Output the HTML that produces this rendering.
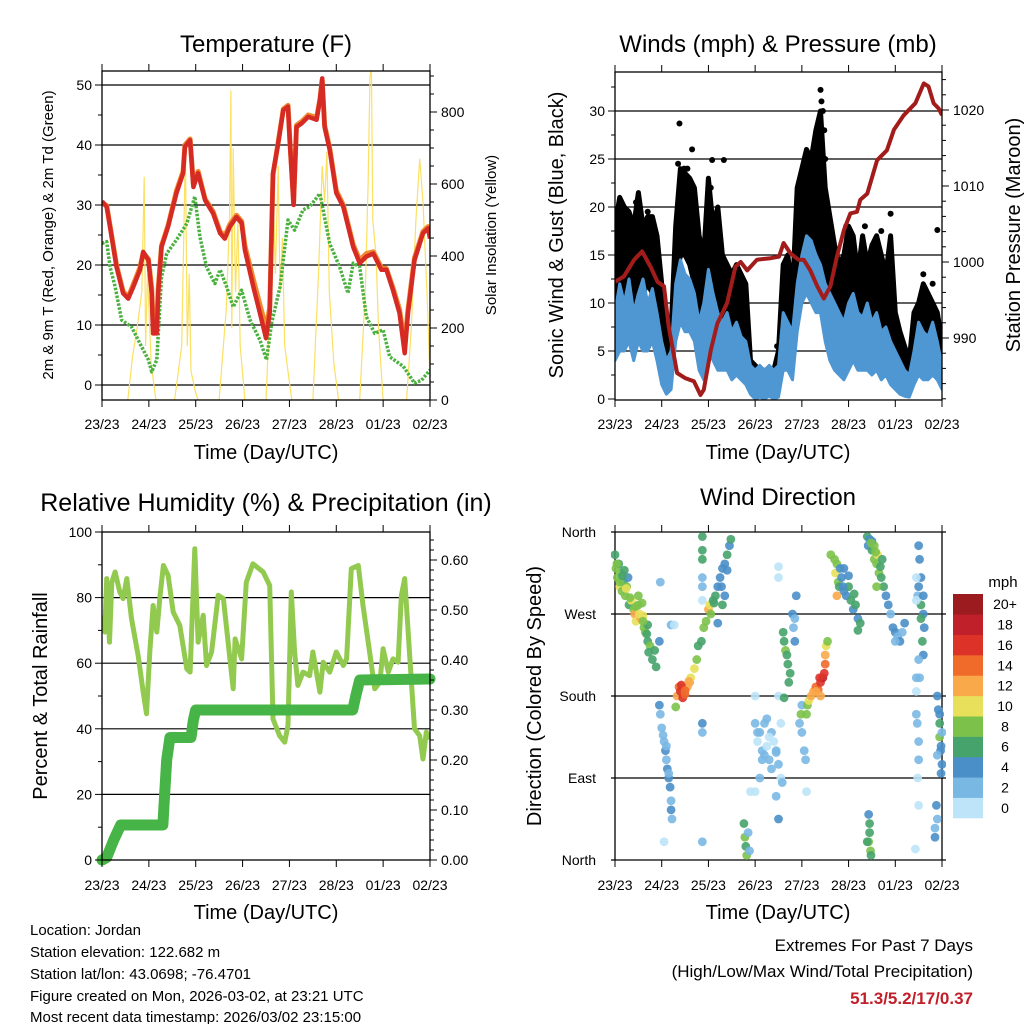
<!DOCTYPE html>
<html><head><meta charset="utf-8"><title>Weather station charts</title>
<style>
html,body{margin:0;padding:0;background:#fff;}
svg{display:block;font-family:"Liberation Sans",sans-serif;}
text{fill:#000;}
</style></head>
<body>
<svg id="fig" width="1024" height="1024" viewBox="0 0 1024 1024" xmlns="http://www.w3.org/2000/svg">
<defs>
<clipPath id="cT"><rect x="102" y="71" width="328" height="329"/></clipPath>
<clipPath id="cW"><rect x="615" y="72" width="327" height="328"/></clipPath>
<clipPath id="cR"><rect x="102" y="532" width="328" height="328"/></clipPath>
<clipPath id="cD"><rect x="611" y="528" width="335" height="336"/></clipPath>
</defs>
<text x="266" y="52" font-size="24" text-anchor="middle">Temperature (F)</text>
<text x="778" y="52" font-size="24" text-anchor="middle">Winds (mph) &amp; Pressure (mb)</text>
<text x="266" y="511" font-size="25" text-anchor="middle">Relative Humidity (%) &amp; Precipitation (in)</text>
<text x="778" y="505" font-size="24" text-anchor="middle">Wind Direction</text>
<text x="266" y="459" font-size="20" text-anchor="middle">Time (Day/UTC)</text>
<text x="778" y="459" font-size="20" text-anchor="middle">Time (Day/UTC)</text>
<text x="266" y="919" font-size="20" text-anchor="middle">Time (Day/UTC)</text>
<text x="778" y="919" font-size="20" text-anchor="middle">Time (Day/UTC)</text>
<text transform="translate(53,235) rotate(-90)" font-size="15" text-anchor="middle">2m &amp; 9m T (Red, Orange) &amp; 2m Td (Green)</text>
<text transform="translate(496,235) rotate(-90)" font-size="15" text-anchor="middle">Solar Insolation (Yellow)</text>
<text transform="translate(563,235) rotate(-90)" font-size="20" text-anchor="middle">Sonic Wind &amp; Gust (Blue, Black)</text>
<text transform="translate(1020,235) rotate(-90)" font-size="20" text-anchor="middle">Station Pressure (Maroon)</text>
<text transform="translate(47,696) rotate(-90)" font-size="20" text-anchor="middle">Percent &amp; Total Rainfall</text>
<text transform="translate(541,696) rotate(-90)" font-size="20" text-anchor="middle">Direction (Colored By Speed)</text>
<g font-size="15">
<text x="30" y="935">Location: Jordan</text>
<text x="30" y="957">Station elevation: 122.682 m</text>
<text x="30" y="979">Station lat/lon: 43.0698; -76.4701</text>
<text x="30" y="1001">Figure created on Mon, 2026-03-02, at 23:21 UTC</text>
<text x="30" y="1022">Most recent data timestamp: 2026/03/02 23:15:00</text>
</g>
<text x="973" y="951" font-size="17" text-anchor="end">Extremes For Past 7 Days</text>
<text x="973" y="977" font-size="17" text-anchor="end">(High/Low/Max Wind/Total Precipitation)</text>
<text x="973" y="1004" font-size="17" font-weight="bold" text-anchor="end" style="fill:#c0202a">51.3/5.2/17/0.37</text>
<text x="1003" y="587" font-size="15" text-anchor="middle">mph</text>
</svg>
<script>
// ---------- data ----------
const dayLabels = ["23/23","24/23","25/23","26/23","27/23","28/23","01/23","02/23"];
const tempT = [0,0.1,0.17,0.31,0.45,0.56,0.67,0.81,0.88,0.99,1.06,1.09,1.17,1.2,1.27,1.41,1.59,1.73,1.77,1.88,1.95,2.05,2.2,2.37,2.52,2.62,2.73,2.87,2.98,3.05,3.23,3.37,3.5,3.58,3.65,3.76,3.87,3.97,4.01,4.09,4.15,4.26,4.4,4.58,4.65,4.7,4.75,4.86,5.0,5.15,5.36,5.5,5.64,5.79,5.96,6.07,6.21,6.35,6.46,6.53,6.67,6.85,6.96,7.0];
const temp2m = [30.6,29.7,26.4,19.7,15.3,14.4,16.4,19.2,22.2,20.8,15.3,8.6,8.6,15.3,23,26.4,32,35.3,39.7,40.8,33,35.3,30.8,28.6,25.3,24.4,26.4,28,27,22.5,16.4,12,7.8,12,35.3,40.3,45.8,46.4,40.3,30,43,43.6,44.7,44.2,47.5,51.1,43,39.2,32,29.7,23,20.3,21.4,21.9,19.2,19.2,15.8,12,5.3,12,20.8,25.3,26.1,24.4];
const temp9m = [30.4,29.9,26.6,20.0,15.6,14.6,16.8,19.6,22.0,21.0,16.2,10.2,10.0,16.0,23.2,26.6,32.4,35.6,40.0,41.0,33.4,35.6,31.0,28.9,25.6,24.8,26.8,28.3,27.3,23.2,17.6,13.4,9.6,12.8,35.0,40.5,46.0,46.6,40.6,30.4,43.3,43.9,45.0,44.6,47.6,50.8,43.3,39.5,32.4,30.0,23.4,20.8,21.9,22.2,19.6,19.4,16.2,12.6,6.8,12.6,21.2,25.6,26.4,24.8];
const dewT = [0,0.1,0.17,0.28,0.42,0.63,0.81,0.99,1.06,1.17,1.27,1.38,1.59,1.81,1.98,2.09,2.23,2.41,2.52,2.66,2.8,2.98,3.16,3.37,3.51,3.62,3.8,3.97,4.11,4.29,4.43,4.65,4.86,5.07,5.25,5.36,5.5,5.64,5.82,6.0,6.14,6.43,6.67,6.82,7.0];
const dewPt = [23.6,23.9,19.7,16.4,10.8,9.7,6.9,4.2,2.2,4.2,18,21.9,24.2,26.9,31.4,24.7,19.7,16.9,19.2,16.4,13,15.8,10.8,7.5,4.2,10.3,16.4,27.5,25.8,29.2,29.7,31.9,23.6,19.7,15.3,20.3,19.7,11.4,8.6,9.2,4.7,3.1,0.3,0.8,2.5];
const solarT = [0.55,0.65,0.75,0.85,0.9,0.93,0.97,1.05,1.15,1.55,1.7,1.78,1.82,1.86,1.9,2.0,2.05,2.5,2.65,2.72,2.75,2.77,2.8,2.85,2.9,2.95,3.05,3.5,3.6,3.65,3.7,3.76,3.8,3.85,3.9,4.0,4.05,4.5,4.62,4.7,4.75,4.8,4.85,4.95,5.05,5.5,5.62,5.68,5.72,5.75,5.78,5.85,5.9,6.0,6.5,6.6,6.7,6.78,6.85,6.95,7.0];
const solarV = [0,120,200,300,620,150,350,100,0,0,150,700,150,350,80,20,0,0,250,500,860,200,700,300,500,150,0,0,300,600,350,650,300,450,150,50,0,0,350,650,550,690,300,100,0,0,300,600,900,920,500,400,200,0,0,200,500,670,550,250,50];
const windT = [0,0.1,0.2,0.3,0.4,0.5,0.6,0.7,0.8,0.9,1.0,1.1,1.2,1.3,1.4,1.5,1.6,1.7,1.8,1.9,2.0,2.1,2.2,2.3,2.4,2.5,2.6,2.7,2.8,2.9,3.0,3.1,3.2,3.3,3.4,3.5,3.6,3.7,3.8,3.9,4.0,4.1,4.2,4.3,4.4,4.5,4.6,4.7,4.8,4.9,5.0,5.1,5.2,5.3,5.4,5.5,5.6,5.7,5.8,5.9,6.0,6.1,6.2,6.3,6.4,6.5,6.6,6.7,6.8,6.9,7.0];
const sonicHi = [9,12,10,12.5,9,11,12.5,10,11.5,9,6,4,5,12,14.5,13,12.5,11,8,10,13.5,11,9,8,9,7,8,6.5,6,3.5,3,3.5,3,3.5,3,3.5,9,8,7,12,15,17,16.5,15,14,12,11,10,9,8,10,11,9,8.5,10,8,9,7,7.5,6,5,4,3,2.5,5,8,7,6.5,8,6,3.5];
const sonicLo = [4,5,5,6,4,6,5,5,6,4,1.5,0.5,1,6,8,7,7,6,3,2,5,4,3,3,3,2,2.5,2,1.5,0.5,0,0.2,0,0.3,0,0.2,3,3,2,7,10,11,10,9,9,6,4,3,2.5,2,3,4,3,3,3,2.5,3,2,2.5,1.5,1,0.5,0.3,0.2,1.5,2.5,2,2,2.5,2,1];
const gustHi = [18,21,20,19.5,18,21.5,18,19,19,17,12,8,7,18,24,23.5,23,22,17,15,23,18,20,15,14,13,14,13,12,4,3.5,3,3,2.5,3,5,14,15,11,22,24,26,25,28,30,22,19,16,14,15,18,17,13,17,14,16,17,15,13,17,9,7,5.5,4,9,10,12,11,10,9,6];
const gustLo = [10,12,11,12,10,12,11,12,11,9,4,2.5,3,12,15,15,14,12,8,7,10,9,7,6,6,5,5,5,4,1,0.8,1,0.8,1,0.8,1.5,6,6,4,14,16,17,16,16,15,12,8,6,5,4,6,7,5,5,6,5,5,4,4,3,2,1.5,1,0.8,3,4,4,4,4,3,2];
const gustOutT = [1.38,1.65,2.08,2.33,3.47,4.4,4.42,4.45,4.48,5.9,6.9,0.45,0.5,1.35,1.48,4.35,4.3,0.12,2.05,4.5,0.25,0.7,1.55,2.15,3.85,4.95,5.35,5.7,6.6,6.8];
const gustOutV = [28.7,26,24.9,24.9,5.5,32.2,31,30,28,19.3,17.6,20.5,21,24.5,24,27,26,20.5,22,25,19,19.5,24,19,15,18,18,17.5,13,12];
const presT = [0,0.19,0.41,0.58,0.76,0.91,1.05,1.15,1.33,1.51,1.69,1.83,1.9,2.05,2.19,2.4,2.58,2.69,2.83,3.04,3.33,3.51,3.61,3.76,3.93,4.04,4.18,4.33,4.47,4.61,4.75,4.9,5.04,5.18,5.25,5.4,5.61,5.82,5.97,6.18,6.43,6.61,6.71,6.82,6.93,7.0];
const presV = [997.4,998.1,1000.3,1001.4,999.4,997.4,996.8,991.5,985.4,984.7,984.3,982.5,983.2,988.4,991.9,994.6,999.4,1000,998.9,1000.3,1000.5,1000.7,1002.5,1001.1,1000.3,1000.3,998.9,996.8,995.2,996.8,1000.7,1004.2,1006.4,1006.6,1008.2,1009,1013.4,1014.7,1017.4,1019.3,1020.9,1023.5,1023.1,1020.9,1020.2,1019.3];
const rhT = [0,0.06,0.1,0.16,0.21,0.28,0.38,0.45,0.53,0.63,0.77,0.88,0.95,1.02,1.09,1.17,1.24,1.31,1.41,1.52,1.66,1.81,1.88,1.98,2.05,2.16,2.23,2.34,2.48,2.59,2.73,2.8,2.84,2.98,3.08,3.22,3.44,3.58,3.65,3.79,3.9,3.97,4.04,4.11,4.18,4.29,4.43,4.5,4.65,4.72,4.86,5.0,5.15,5.22,5.32,5.47,5.57,5.71,5.82,5.93,6.0,6.11,6.21,6.32,6.39,6.46,6.57,6.67,6.78,6.85,6.92,7.0];
const rhV = [74.6,69.5,85.8,66.4,84.7,87.8,81.7,79.7,85.8,73.6,62.4,51.2,44.6,63.4,77.6,69.5,80.7,89.8,86.8,75.6,71.5,58.3,57.3,94.9,66.4,74.6,59.3,63.4,80.7,79.7,61.3,52.2,67.4,61.3,84.7,90.3,87.8,83.7,43,37.9,35.9,41,81.7,63.4,53.2,57.3,56.2,63.4,51.2,60.3,57.3,63.4,59.3,61.3,88.8,89.8,77.6,63.4,52.2,54.2,64.4,57.3,61.3,60.3,80.7,85.8,61.3,40,37.9,30.8,39,36.9];
const precT = [0,0.1,0.25,0.4,1.3,1.33,1.38,1.45,1.9,1.95,2.0,5.35,5.42,5.5,7.0];
const precV = [0,0.005,0.04,0.07,0.07,0.12,0.2,0.245,0.245,0.28,0.3,0.3,0.33,0.36,0.362];
const dirT = [0,0.02,0.05,0.08,0.1,0.12,0.15,0.18,0.2,0.22,0.25,0.28,0.3,0.35,0.4,0.42,0.45,0.5,0.55,0.6,0.62,0.65,0.7,0.75,0.8,0.85,0.88,0.95,0.7,0.5,0.58,0.97,1.2,1.27,
1.3,1.33,1.37,1.4,1.45,1.5,1.55,1.6,1.62,1.7,1.75,1.78,1.85,1.9,1.95,2.0,2.03,2.05,2.1,2.15,2.2,2.25,2.3,2.35,2.4,2.45,2.48,2.3,2.2,2.35,1.87,1.87,1.87,1.87,1.87,1.87,
0.95,0.97,1.0,1.05,1.08,1.1,1.12,1.15,1.18,1.2,1.2,1.22,1.03,1.1,1.15,1.05,1.87,1.87,1.87,
2.76,2.78,2.8,2.82,2.85,2.88,3.0,3.05,3.1,3.15,3.2,3.25,3.3,3.35,3.4,3.45,3.5,3.55,3.58,3.35,3.1,2.9,3.0,3.55,3.45,3.5,3.0,3.5,3.25,3.5,3.5,
3.6,3.62,3.65,3.68,3.7,3.75,3.72,3.62,3.8,3.82,3.85,3.88,3.85,3.95,4.0,4.05,4.08,4.0,3.98,
4.1,4.12,4.15,4.2,4.25,4.3,4.35,4.4,4.45,4.48,4.5,4.5,4.52,4.55,4.3,4.4,4.38,
4.7,4.72,4.75,4.78,4.8,4.85,4.9,4.95,5.0,5.05,5.1,5.15,5.2,5.25,4.75,4.82,4.9,5.2,
5.4,5.42,5.45,5.5,5.55,5.6,5.65,5.55,5.62,5.7,5.75,5.8,5.5,5.6,5.72,
5.85,5.9,5.95,6.0,6.05,6.1,6.15,6.2,6.0,
6.5,6.52,6.55,6.5,6.48,6.55,6.6,6.62,6.58,6.6,6.5,6.52,6.45,6.45,6.47,6.5,6.5,6.48,6.5,6.45,6.45,6.45,
6.9,6.92,6.95,6.95,6.97,7.0,6.98,7.0,6.9,6.88,6.85,6.85,6.9,
5.43,5.45,5.45,5.43,5.47,5.48,5.4,6.43,4.1,
0.04,0.1,0.16,0.24,0.32,0.45,0.52,0.6,0.68,0.72,1.42,1.5,1.58,2.12,2.28,2.4,3.15,3.3,3.45,3.2,3.05,4.62,4.88,5.0,5.12,5.48,5.58,5.68,6.55,6.6,6.95,6.98];
const dirDeg = [335,320,310,325,300,315,295,305,318,290,300,310,280,285,275,270,262,280,265,268,255,250,240,235,220,230,212,240,258,290,282,305,258,258,
168,180,190,185,178,182,190,195,200,210,220,235,240,255,262,275,280,270,285,290,300,310,320,325,335,345,352,280,260,290,355,340,330,310,300,285,
170,160,145,130,120,110,100,90,80,65,55,45,137,125,95,20,150,140,20,
40,25,15,5,30,10,150,130,140,120,115,125,110,100,130,120,105,90,85,140,90,75,75,150,70,45,180,180,155,322,310,
250,240,230,225,215,205,195,178,270,255,240,290,265,150,140,120,110,170,160,
160,170,175,180,185,190,187,195,200,205,215,225,235,240,185,180,200,
330,315,325,305,300,310,295,290,300,285,275,280,265,260,290,320,320,252,
355,345,352,340,330,325,315,345,335,310,300,290,350,300,330,
280,270,255,250,245,240,250,260,240,
345,330,310,300,290,280,270,255,240,225,220,200,185,160,150,130,110,90,60,200,285,310,
180,165,150,135,120,105,95,140,115,60,35,25,45,
50,40,30,20,10,5,20,12,75,
325,305,312,298,288,278,270,262,248,228,192,186,196,282,300,318,110,135,118,150,140,335,300,312,292,348,338,322,265,290,160,125];
const dirSpd = [7,8,9,7,10,8,9,7,6,9,8,5,7,10,9,12,10,8,12,11,9,8,7,9,6,7,6,5,7,9,8,3,2,1,
9,13,15,17,16,14,12,12,10,10,9,6,7,8,8,12,10,9,6,7,4,4,4,4,6,5,6,6,4,4,6,6,7,2,2,1,
4,2,3,3,4,3,4,4,4,3,4,3,3,2,3,1,4,2,3,
6,8,6,8,2,3,2,1,3,2,2,1,2,3,1,2,3,1,3,2,2,1,1,1,3,4,1,1,2,1,1,
7,6,8,6,6,7,6,6,4,3,4,4,3,3,2,3,3,3,8,
9,8,11,12,13,14,15,17,18,16,14,12,11,8,12,13,16,
8,10,8,9,6,4,4,5,7,6,4,6,5,6,12,4,5,6,
6,5,4,7,9,8,8,8,10,6,7,4,5,8,7,
4,3,4,4,3,4,3,4,2,
4,4,5,4,3,6,4,5,6,4,2,3,1,2,2,3,2,1,1,2,1,1,
4,4,6,8,4,4,4,3,3,4,3,4,2,
4,6,6,8,8,6,6,1,1,
8,9,7,10,8,9,11,8,7,6,16,14,12,6,5,4,2,1,2,2,3,9,5,4,6,8,9,7,6,4,5,4];
const speedLabels = ["0","2","4","6","8","10","12","14","16","18","20+"];
const speedColors = ["#bde4f8","#7ab8e4","#4a8fc8","#46a36c","#7cc24a","#e8e05a","#f9a94a","#f06a2a","#dc3228","#c0202a","#9b1b1e"];

// ---------- helpers ----------
const NS = "http://www.w3.org/2000/svg";
const svg = document.getElementById("fig");
function mk(tag, attrs, parent){
  const e = document.createElementNS(NS, tag);
  for (const k in attrs) e.setAttribute(k, attrs[k]);
  (parent || svg).appendChild(e);
  return e;
}
function linePath(xs, ys){
  let d = "";
  for (let i=0;i<xs.length;i++) d += (i?"L":"M") + xs[i].toFixed(1) + " " + ys[i].toFixed(1);
  return d;
}
function bandPath(xs, hi, lo){
  let d = "";
  for (let i=0;i<xs.length;i++) d += (i?"L":"M") + xs[i].toFixed(1) + " " + hi[i].toFixed(1);
  for (let i=xs.length-1;i>=0;i--) d += "L" + xs[i].toFixed(1) + " " + lo[i].toFixed(1);
  return d + "Z";
}
const xT = t => 102 + t/7*328;
const xW = t => 615 + t/7*327;
const yTemp = v => 385 - v*6;
const ySolar = v => 400 - v*0.36;
const yWind = v => 399 - v*9.6;
const yPres = p => 262 - (p-1000)*7.6;
const yRH = v => 860 - v*3.28;
const yPrec = v => 860 - v*500;
const yDir = d => 860 - d*328/360;

function frame(name){
  const g = mk("g",{});
  
  
  return g;
}
function hline(g,x0,x1,y,w,name){
  const l = mk("line",{x1:x0,x2:x1,y1:y,y2:y,stroke:"#000","stroke-width":w},g);
  
  
}
function vline(g,x,y0,y1,w,name){
  const l = mk("line",{x1:x,x2:x,y1:y0,y2:y1,stroke:"#000","stroke-width":w},g);
  
  
}
function label(g,x,y,s,anchor,size,name){
  const t = mk("text",{x:x,y:y,"text-anchor":anchor,"font-size":size},g);
  t.textContent = s;
  
  
}
function xAxis(g,x0,x1,y0,y1,labY){
  for (let k=0;k<8;k++){
    const x = x0 + k*(x1-x0)/7;
    vline(g,x,y0-7,y0,1,"x-tick-top");
    vline(g,x,y1,y1+7,1,"x-tick-bottom");
    label(g,x,labY,dayLabels[k],"middle",14,"x-tick-label");
  }
}
function leftAxis(g,x0,vals,labs,yf,minors){
  for (let i=0;i<vals.length;i++){
    const y = yf(vals[i]);
    hline(g,x0-7,x0,y,1,"y-tick-left");
    label(g,x0-10,y+5,labs[i],"end",14,"y-tick-label-left");
  }
  for (const m of minors) hline(g,x0-4,x0,yf(m),1,"y-minor-tick-left");
}
function rightAxis(g,x1,vals,labs,yf,minors){
  for (let i=0;i<vals.length;i++){
    const y = yf(vals[i]);
    hline(g,x1,x1+7,y,1,"y-tick-right");
    label(g,x1+11,y+5,labs[i],"start",14,"y-tick-label-right");
  }
  for (const m of minors) hline(g,x1,x1+4,yf(m),1,"y-minor-tick-right");
}
function range(a,b,s){const r=[];for(let v=a;v<=b+1e-9;v+=s)r.push(+v.toFixed(4));return r;}
function box(g,x0,y0,x1,y1){
  const r = mk("rect",{x:x0,y:y0,width:x1-x0,height:y1-y0,fill:"none",stroke:"#000","stroke-width":1.3},g);
  
  
}

// ---------- Panel 1: temperature ----------
{
  const g = frame("temperature-panel");
  for (const v of [0,10,20,30,40,50]) hline(g,102,430,yTemp(v),1.2,"temp-gridline");
  const d = mk("g",{"clip-path":"url(#cT)"},g);
  const sol = mk("path",{d:linePath(solarT.map(xT),solarV.map(ySolar)),fill:"none",stroke:"#fbe062","stroke-width":1.2},d);
  
  
  const dw = mk("path",{d:linePath(dewT.map(xT),dewPt.map(yTemp)),fill:"none",stroke:"#4ab03e","stroke-width":3.5,"stroke-dasharray":"2.5 1.5","stroke-linejoin":"round"},d);
  
  
  const o = mk("path",{d:linePath(tempT.map(xT),temp9m.map(yTemp)),fill:"none",stroke:"#f08a30","stroke-width":5,"stroke-linejoin":"round"},d);
  
  
  const r = mk("path",{d:linePath(tempT.map(xT),temp2m.map(yTemp)),fill:"none",stroke:"#d62a24","stroke-width":4.5,"stroke-linejoin":"round"},d);
  
  
  box(g,102,71,430,400);
  xAxis(g,102,430,71,400,429);
  leftAxis(g,102,[0,10,20,30,40,50],["0","10","20","30","40","50"],yTemp,[5,15,25,35,45]);
  rightAxis(g,430,[0,200,400,600,800],["0","200","400","600","800"],ySolar,range(50,900,50).filter(v=>v%200));
}
// ---------- Panel 2: winds ----------
{
  const g = frame("winds-panel");
  for (const v of [5,10,15,20,25,30]) hline(g,615,942,yWind(v),1.2,"wind-gridline");
  const d = mk("g",{"clip-path":"url(#cW)"},g);
  const xs = windT.map(xW);
  const gb = mk("path",{d:bandPath(xs,gustHi.map(yWind),gustLo.map(yWind)),fill:"#000",stroke:"#000","stroke-width":5,"stroke-linejoin":"round"},d);
  
  
  for (let i=0;i<gustOutT.length;i++){
    const c = mk("circle",{cx:xW(gustOutT[i]),cy:yWind(gustOutV[i]),r:3,fill:"#000"},d);
    
    
  }
  const sb = mk("path",{d:bandPath(xs,sonicHi.map(yWind),sonicLo.map(yWind)),fill:"#4f97d3",stroke:"#4f97d3","stroke-width":3,"stroke-linejoin":"round"},d);
  
  
  const p = mk("path",{d:linePath(presT.map(xW),presV.map(yPres)),fill:"none",stroke:"#a31c1c","stroke-width":4,"stroke-linejoin":"round"},d);
  
  
  box(g,615,72,942,400);
  xAxis(g,615,942,72,400,429);
  leftAxis(g,615,[0,5,10,15,20,25,30],["0","5","10","15","20","25","30"],yWind,range(2.5,32.5,5));
  rightAxis(g,942,[990,1000,1010,1020],["990","1000","1010","1020"],yPres,range(982,1024,2).filter(v=>v%10));
}
// ---------- Panel 3: humidity ----------
{
  const g = frame("humidity-panel");
  for (const v of [20,40,60,80]) hline(g,102,430,yRH(v),1.2,"rh-gridline");
  const d = mk("g",{"clip-path":"url(#cR)"},g);
  const r = mk("path",{d:linePath(rhT.map(xT),rhV.map(yRH)),fill:"none",stroke:"#92c94f","stroke-width":5,"stroke-linejoin":"round"},d);
  
  
  const pr = mk("path",{d:linePath(precT.map(xT),precV.map(yPrec)),fill:"none",stroke:"#46b446","stroke-width":11,"stroke-linejoin":"round","stroke-linecap":"round"},g);
  
  
  box(g,102,532,430,860);
  xAxis(g,102,430,532,860,890);
  leftAxis(g,102,[0,20,40,60,80,100],["0","20","40","60","80","100"],yRH,[10,30,50,70,90]);
  rightAxis(g,430,[0,0.1,0.2,0.3,0.4,0.5,0.6],["0.00","0.10","0.20","0.30","0.40","0.50","0.60"],yPrec,range(0.02,0.64,0.02).filter(v=>Math.round(v*100)%10));
}
// ---------- Panel 4: wind direction ----------
{
  const g = frame("wind-direction-panel");
  for (const v of [90,180,270]) hline(g,611,946,yDir(v),1.2,"direction-gridline");
  hline(g,611,946,532,1.2,"direction-top-line");
  hline(g,611,946,860,1.2,"direction-bottom-line");
  vline(g,615,532,860,1.3,"direction-left-axis");
  vline(g,942,532,860,1.3,"direction-right-axis");
  const d = mk("g",{"clip-path":"url(#cD)"},g);
  for (let i=0;i<dirT.length;i++){
    const idx = Math.min(10, Math.floor(dirSpd[i]/2));
    const c = mk("circle",{cx:xW(dirT[i]),cy:yDir(dirDeg[i]),r:4.4,fill:speedColors[idx],"fill-opacity":0.9},d);
    
    
  }
  for (let k=0;k<8;k++){
    const x = 615 + k*327/7;
    vline(g,x,860,867,1,"x-tick-bottom");
    vline(g,x,525,532,1,"x-tick-top");
    label(g,x,890,dayLabels[k],"middle",14,"x-tick-label");
  }
  const names = ["North","East","South","West","North"];
  [0,90,180,270,360].forEach((v,i)=>label(g,596,yDir(v)+5,names[i],"end",14,"direction-tick-label"));
  const cb = mk("g",{},g);
  
  
  const h = 224/11;
  for (let i=0;i<11;i++){
    const y = 818 - (i+1)*h;
    const r = mk("rect",{x:953,y:y,width:30,height:h+0.3,fill:speedColors[i]},cb);
    
    
    label(cb,1005,y+h/2+5,speedLabels[i],"middle",14,"colorbar-label");
  }
}
</script>
</body></html>
